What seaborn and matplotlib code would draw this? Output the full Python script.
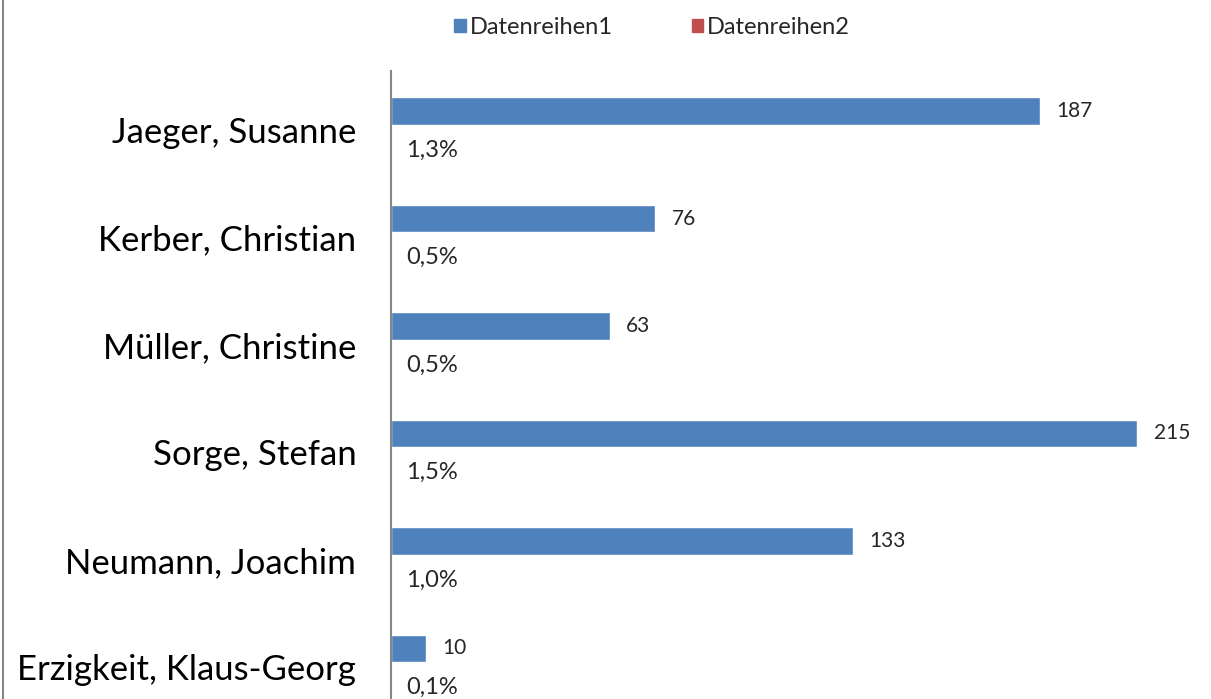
import matplotlib
matplotlib.use("Agg")
import matplotlib.pyplot as plt
from matplotlib.lines import Line2D
from matplotlib.transforms import ScaledTranslation
import seaborn as sns
import pandas as pd

names = ["Jaeger, Susanne", "Kerber, Christian", "Müller, Christine",
         "Sorge, Stefan", "Neumann, Joachim", "Erzigkeit, Klaus-Georg"]
series1 = [187, 76, 63, 215, 133, 10]
series2 = [0.013, 0.005, 0.005, 0.015, 0.010, 0.001]
series_names = ["Datenreihen1", "Datenreihen2"]

df = pd.DataFrame({
    "name": names * 2,
    "value": series1 + series2,
    "series": [series_names[0]] * len(names) + [series_names[1]] * len(names),
})

sns.set_theme(style="white")
plt.rcParams["font.family"] = ["Lato", "DejaVu Sans"]

W, H = 1211, 699
fig = plt.figure(figsize=(W / 100, H / 100), dpi=100)
ax = fig.add_axes([391 / W, 0, (W - 391) / W, 1 - 71.25 / H])

sns.barplot(data=df, y="name", x="value", hue="series", orient="h",
            palette=["#4F81BD", "#C0504D"], width=0.52, ax=ax,
            saturation=1, legend=True)

ax.set_xlim(0, (W - 391) / 3.47)
ax.set_ylim(5.34, -0.5)
ax.set_xlabel("")
ax.set_ylabel("")
ax.set_xticks([])
ax.tick_params(axis="y", length=0, labelsize=25, pad=25, colors="black")
shift = ScaledTranslation(0, -5 / 100, fig.dpi_scale_trans)
for lab in ax.get_yticklabels():
    lab.set_color("black")
    lab.set_transform(lab.get_transform() + shift)
for s in ["top", "right", "bottom"]:
    ax.spines[s].set_visible(False)
ax.spines["left"].set_color("#868686")
ax.spines["left"].set_linewidth(1.5)

c1, c2 = ax.containers[0], ax.containers[1]
ax.bar_label(c1, labels=[str(v) for v in series1], padding=12, fontsize=15)
for p, v in zip(c2.patches, series2):
    y = p.get_y() + p.get_height() / 2
    ax.annotate(f"{v*100:.1f}%".replace(".", ","), xy=(p.get_width(), y),
                xytext=(10.8, -8), textcoords="offset points",
                ha="left", va="center", fontsize=17)

ax.legend_.remove()
handles = [plt.Rectangle((0, 0), 1, 1, color=c) for c in ["#4F81BD", "#C0504D"]]
fig.legend(handles, series_names, loc="center", bbox_to_anchor=(652 / W, 1 - 27 / H),
           ncol=2, frameon=False, fontsize=17, handlelength=0.47, handleheight=0.47,
           handletextpad=0.17, columnspacing=3.35)

fig.add_artist(Line2D([3 / W, 3 / W], [0, 1], color="#868686", linewidth=1.5,
                      transform=fig.transFigure))

fig.savefig("out.png", dpi=100)
